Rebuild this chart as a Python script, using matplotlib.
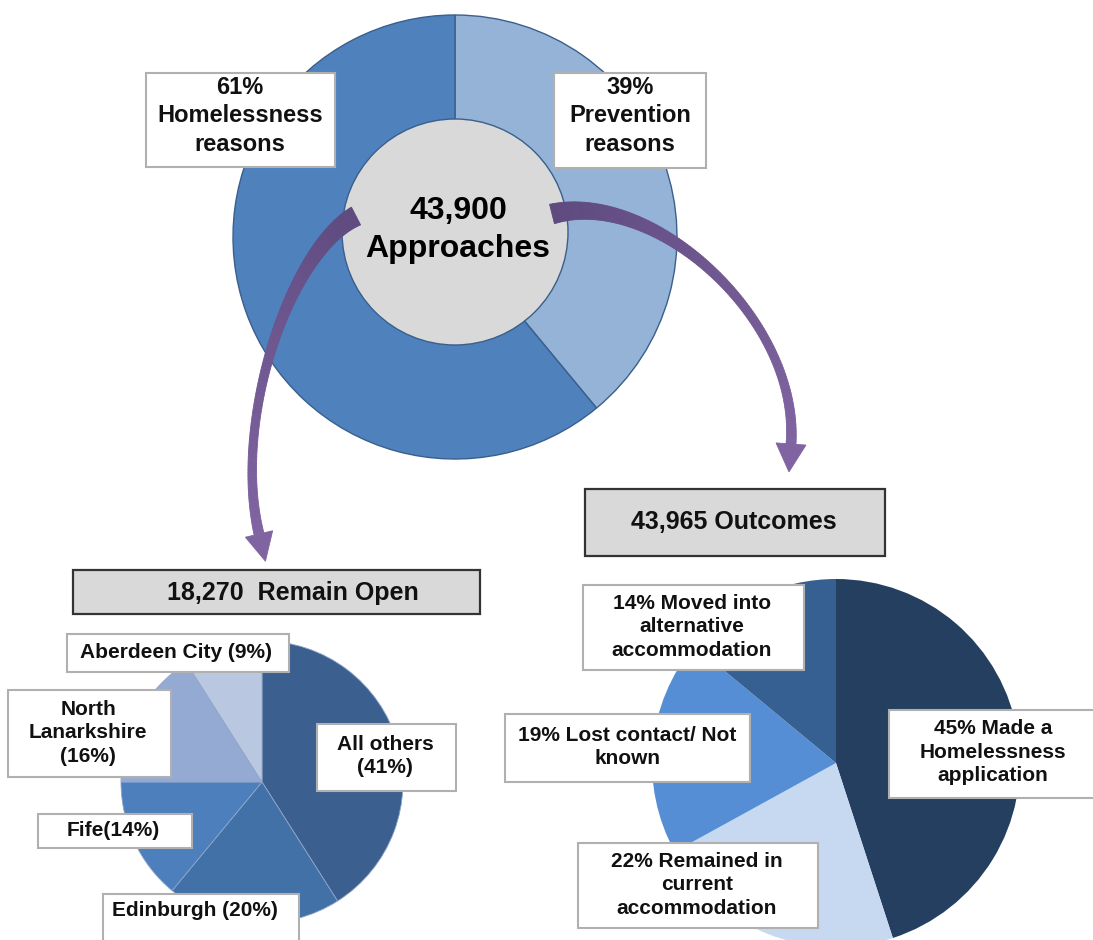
import numpy as np
import matplotlib
matplotlib.use("Agg")
import matplotlib.pyplot as plt
from matplotlib.patches import Rectangle, Circle, Polygon
from matplotlib.colors import to_rgb

# ---------------- data ----------------
approaches_total = "43,900"
donut_labels = ["Prevention reasons", "Homelessness reasons"]
donut_values = [39, 61]
donut_colors = ["#95B3D7", "#4F81BD"]

open_total = "18,270"
open_labels = ["All others", "Edinburgh", "Fife", "North Lanarkshire", "Aberdeen City"]
open_values = [41, 20, 14, 16, 9]
open_colors = ["#3B5F8E", "#4271A8", "#4C7FBC", "#95AAD3", "#B9C7E1"]

outcomes_total = "43,965"
outcome_labels = ["Made a Homelessness application", "Remained in current accommodation",
                  "Lost contact/ Not known", "Moved into alternative accommodation"]
outcome_values = [45, 22, 19, 14]
outcome_colors = ["#253F60", "#C6D9F1", "#558ED5", "#376092"]

# ---------------- figure ----------------
W, H = 1093, 940
plt.rcParams['font.family'] = ['Liberation Sans', 'DejaVu Sans']
fig = plt.figure(figsize=(W / 100, H / 100), dpi=100)
ax = fig.add_axes([0, 0, 1, 1])


def Y(y):
    return H - y


# main donut
ax.pie(donut_values, colors=donut_colors, startangle=90, counterclock=False,
       radius=222, center=(455, Y(237)),
       wedgeprops=dict(edgecolor="#3A5F8B", linewidth=1.0))
ax.add_patch(Circle((455, Y(232)), 113, facecolor="#D9D9D9", edgecolor="#3A5F8B",
                    linewidth=1.0, zorder=3))
ax.text(458, Y(230), f"{approaches_total}\nApproaches", ha="center", va="center",
        fontsize=23, fontweight="bold", linespacing=1.32, zorder=4)

# bottom-left pie
ax.pie(open_values, colors=open_colors, startangle=90, counterclock=False,
       radius=141, center=(262, Y(782)),
       wedgeprops=dict(edgecolor="#8FA6C8", linewidth=0.6))

# bottom-right pie
ax.pie(outcome_values, colors=outcome_colors, startangle=90, counterclock=False,
       radius=184, center=(836, Y(763)),
       wedgeprops=dict(edgecolor="none", linewidth=0))


def box(x0, y0, x1, y1, text, tx, ty, fs, face="white", edge="#B0B0B0", lw=1.5,
        weight="bold", ls=1.28):
    ax.add_patch(Rectangle((x0, Y(y1)), x1 - x0, y1 - y0, facecolor=face,
                           edgecolor=edge, linewidth=lw, zorder=5))
    ax.text(tx, Y(ty), text, ha="center", va="center", fontsize=fs,
            fontweight=weight, linespacing=ls, zorder=6, color="#111111")


# donut labels
box(146, 73, 335, 167, f"{donut_values[1]}%\nHomelessness\nreasons", 240, 116, 17, ls=1.3)
box(554, 73, 706, 168, f"{donut_values[0]}%\nPrevention\nreasons", 630, 116, 17, ls=1.3)

# headers
box(73, 570, 480, 614, f"{open_total}  Remain Open", 293, 593, 18,
    face="#D9D9D9", edge="#333333", lw=1.6)
box(585, 489, 885, 556, f"{outcomes_total} Outcomes", 734, 522, 18,
    face="#D9D9D9", edge="#333333", lw=1.6)

# left pie labels
box(67, 634, 289, 672, f"{open_labels[4]} ({open_values[4]}%)", 176, 652, 15)
box(8, 690, 171, 777, f"North\nLanarkshire\n({open_values[3]}%)", 88, 733, 15)
box(38, 814, 192, 848, f"{open_labels[2]}({open_values[2]}%)", 113, 831, 15)
box(103, 894, 299, 960, f"{open_labels[1]} ({open_values[1]}%)", 195, 911, 15)
box(317, 724, 456, 791, f"{open_labels[0]}\n({open_values[0]}%)", 385, 756, 15)

# right pie labels
box(583, 585, 804, 670, f"{outcome_values[3]}% Moved into\nalternative\naccommodation", 692, 627, 15)
box(505, 714, 750, 782, f"{outcome_values[2]}% Lost contact/ Not\nknown", 627, 747, 15)
box(889, 710, 1100, 798, f"{outcome_values[0]}% Made a\nHomelessness\napplication", 993, 752, 15)
box(578, 843, 818, 928, f"{outcome_values[1]}% Remained in\ncurrent\naccommodation", 697, 885, 15)


# curved purple arrows
def bez(P, t):
    P = np.asarray(P, float)
    t = t[:, None]
    pts = ((1 - t) ** 3) * P[0] + 3 * ((1 - t) ** 2) * t * P[1] + 3 * (1 - t) * t ** 2 * P[2] + t ** 3 * P[3]
    d = 3 * ((1 - t) ** 2) * (P[1] - P[0]) + 6 * (1 - t) * t * (P[2] - P[1]) + 3 * t ** 2 * (P[3] - P[2])
    return pts, d


def curved_arrow(P, w0, wm, w1, head_len, head_w, c0="#5E4A7E", c1="#8064A2"):
    P = [(x, Y(y)) for x, y in P]
    t = np.linspace(0, 1, 120)
    pts, d = bez(P, t)
    tang = d / np.linalg.norm(d, axis=1)[:, None]
    nrm = np.column_stack([-tang[:, 1], tang[:, 0]])
    w = w0 * (1 - t) ** 2 + wm * 2 * t * (1 - t) + w1 * t ** 2
    left = pts + nrm * (w[:, None] / 2)
    right = pts - nrm * (w[:, None] / 2)
    a0, a1 = np.array(to_rgb(c0)), np.array(to_rgb(c1))
    for i in range(len(t) - 1):
        col = a0 + (a1 - a0) * t[i]
        quad = [left[i], left[i + 1], right[i + 1], right[i]]
        ax.add_patch(Polygon(quad, closed=True, facecolor=col, edgecolor=col,
                             linewidth=0.6, zorder=7))
    end, tg, nm = pts[-1], tang[-1], nrm[-1]
    tri = [end + nm * head_w / 2, end + tg * head_len, end - nm * head_w / 2]
    ax.add_patch(Polygon(tri, closed=True, facecolor=c1, edgecolor=c1,
                         linewidth=0.6, zorder=7))


curved_arrow([(356, 216), (290, 250), (232, 420), (259, 534)],
             w0=20, wm=4, w1=10, head_len=28, head_w=28)
curved_arrow([(552, 214), (655, 188), (800, 320), (791, 444)],
             w0=20, wm=4, w1=10, head_len=28, head_w=30)

ax.set_xlim(0, W)
ax.set_ylim(0, H)
ax.set_aspect("equal")
ax.axis("off")
fig.savefig("out.png", dpi=100, facecolor="white")
